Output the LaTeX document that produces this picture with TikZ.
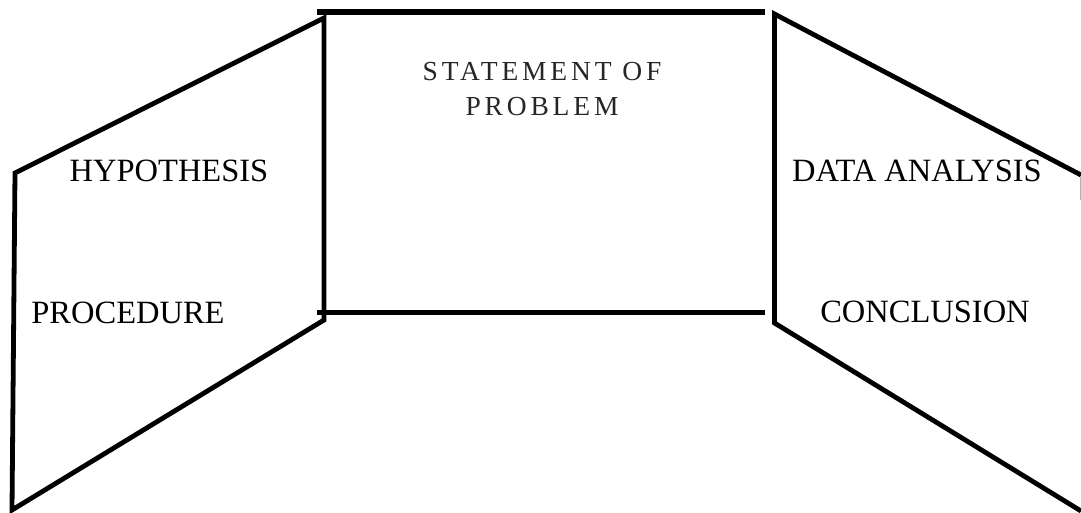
\documentclass[tikz,border=0pt]{standalone}
\usepackage{fontspec}
\setmainfont{Liberation Serif}
\usetikzlibrary{positioning}

\begin{document}
\begin{tikzpicture}[
  x=1pt,y=-1pt,
  edge/.style={line width=4.8pt,line cap=butt,line join=miter},
  thin edge/.style={line width=1pt,gray!60},
  lbl/.style={font=\fontsize{32.5}{36}\selectfont,inner sep=0pt},
  title/.style={font=\fontsize{27.5}{35}\selectfont\addfontfeature{LetterSpace=14},align=center,inner sep=0pt,text=black!85}
]
\useasboundingbox (0,0) rectangle (1081,512);
% corners of the board
\coordinate (ltop) at (15,173);
\coordinate (lbot) at (12,510);
\coordinate (ctl) at (324,18);
\coordinate (cbl) at (324,320);
\coordinate (ctr) at (774.5,14);
\coordinate (cbr) at (774.5,323);
\coordinate (rtop) at (1081,175);
\coordinate (rbot) at (1081,511);
% left panel
\draw[edge] (ltop)--(ctl)--(cbl)--(lbot)--cycle;
% centre panel
\draw[edge,line width=5.5pt] (317,12)--(765,12);
\draw[edge] (317,312.5)--(765,312.5);
% right panel
\draw[edge] (rtop)--(ctr)--(cbr)--(rbot);
\draw[thin edge] (1080,176)--(1080,200);
% labels
\node[title] (stmt) at (542,89) {STATEMENT OF\\PROBLEM};
\node[lbl] (hyp) at (169,171) {HYPOTHESIS};
\node[lbl] (proc) at (128,313) {PROCEDURE};
\node[lbl] (data) at (917,171) {DATA ANALYSIS};
\node[lbl] (conc) at (925,312) {CONCLUSION};
\end{tikzpicture}
\end{document}
